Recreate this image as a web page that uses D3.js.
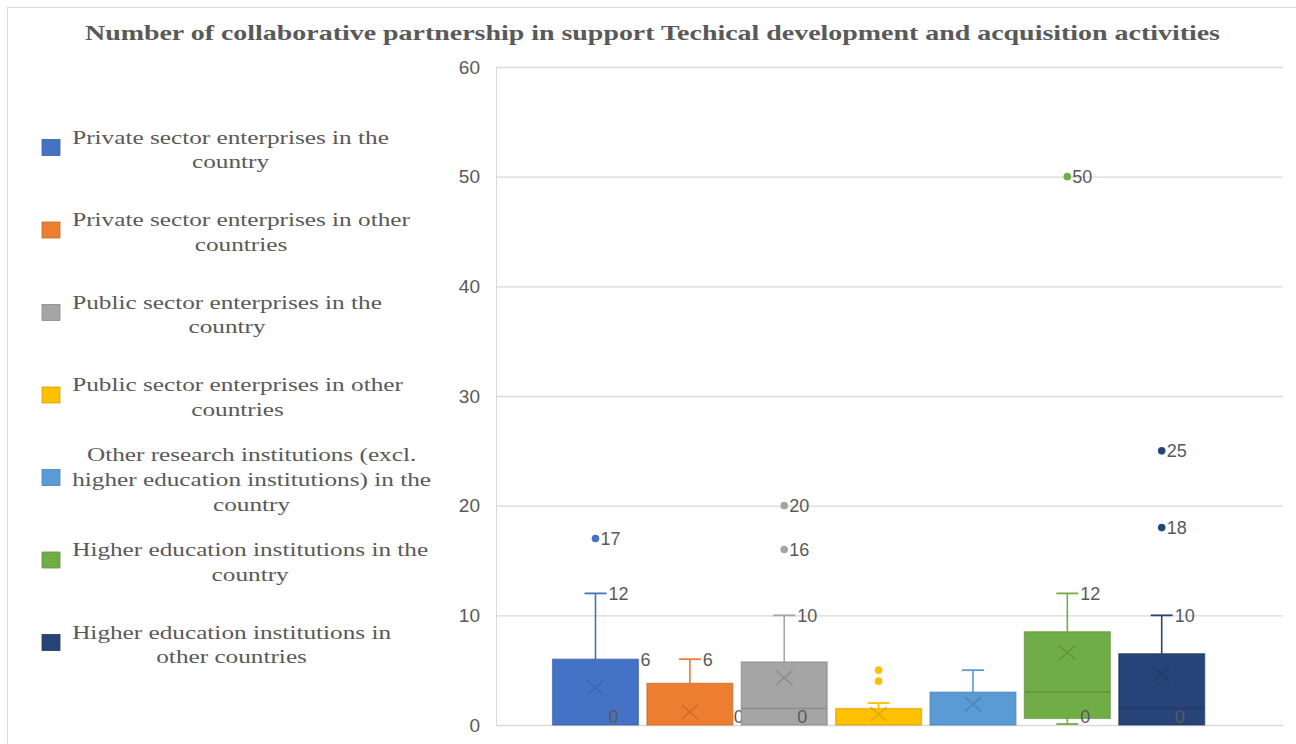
<!DOCTYPE html>
<html>
<head>
<meta charset="utf-8">
<script src="https://cdn.jsdelivr.net/npm/d3@7"></script>
<style>
  body { margin: 0; background: #fff; }
  svg { display: block; }
</style>
</head>
<body>
<svg id="chart" width="1296" height="744"></svg>
<script>
// ---------- data ----------
const titleText = "Number of collaborative partnership in support Techical development and acquisition activities";
const series = [
  "Private sector enterprises in the country",
  "Private sector enterprises in other countries",
  "Public sector enterprises in the country",
  "Public sector enterprises in other countries",
  "Other research institutions (excl. higher education institutions) in the country",
  "Higher education institutions in the country",
  "Higher education institutions in other countries"
];
const legendLines = [
  ["Private sector enterprises in the", "country"],
  ["Private sector enterprises in other", "countries"],
  ["Public sector enterprises in the", "country"],
  ["Public sector enterprises in other", "countries"],
  ["Other research institutions (excl.", "higher education institutions) in the", "country"],
  ["Higher education institutions in the", "country"],
  ["Higher education institutions in", "other countries"]
];
const colors   = ["#4472C4", "#ED7D31", "#A5A5A5", "#FFC000", "#5B9BD5", "#70AD47", "#264478"];
const mins     = [0, 0, 0, 0, 0, 0, 0];
const q1s      = [0, 0, 0, 0, 0, 0.6, 0];
const medians  = [0, 0, 1.5, 0, 0, 3, 1.5];
const q3s      = [6, 3.8, 5.75, 1.5, 3, 8.5, 6.5];
const maxs     = [12, 6, 10, 2, 5, 12, 10];
const means    = [3.4, 1.2, 4.3, 1.0, 1.9, 6.6, 4.65];
const outliers = [[17], [], [16, 20], [4, 5], [], [50], [18, 25]];
// which values carry a data label
const labelMax      = [true, true, true, false, false, true, true];
const labelMin      = [true, false, true, false, false, true, true];
const labelQ3       = [true, false, false, false, false, false, false];
const labelQ1       = [false, true, false, false, false, false, false];
const labelOutliers = [true, false, true, false, false, true, true];
const yTicks = [0, 10, 20, 30, 40, 50, 60];

// ---------- layout ----------
const svg = d3.select("#chart");
const plot = { left: 496, right: 1283, top: 67, bottom: 725 };
const textGray = "#595959";
const gridGray = "#d9d9d9";

// outer chart border
svg.append("rect")
  .attr("x", 7.5).attr("y", 7.5).attr("width", 1400).attr("height", 900)
  .attr("fill", "#fff").attr("stroke", gridGray).attr("stroke-width", 1);

const y = d3.scaleLinear().domain([0, 60]).range([plot.bottom, plot.top]);
const x = d3.scaleBand().domain(series).range([548.3, 1208.9])
  .paddingInner(0.09).paddingOuter(0.045);

// title
const title = svg.append("text")
  .attr("x", 85).attr("y", 40)
  .attr("font-family", "'Liberation Serif', 'Times New Roman', serif")
  .attr("font-weight", "bold")
  .attr("font-size", 22)
  .attr("fill", textGray)
  .attr("textLength", 1135)
  .attr("lengthAdjust", "spacingAndGlyphs")
  .text(titleText);

// grid + y axis
const yAxis = d3.axisLeft(y).tickValues(yTicks).tickSize(-(plot.right - plot.left)).tickPadding(16);
const gAxis = svg.append("g").attr("transform", `translate(${plot.left},0)`).call(yAxis);
gAxis.select(".domain").attr("stroke", gridGray).attr("d", `M0.5,${plot.top}V${plot.bottom}`);
gAxis.selectAll(".tick line").attr("stroke", gridGray).attr("stroke-width", 1.3);
gAxis.selectAll(".tick text")
  .attr("font-family", "'Liberation Sans', Arial, sans-serif")
  .attr("font-size", 19)
  .attr("fill", textGray);

// ---------- boxes ----------
const bw = x.bandwidth();
const capHalf = 11;
const g = svg.append("g");
const labelFont = "'Liberation Sans', Arial, sans-serif";

function addLabel(px, value, txt) {
  const cy = Math.min(y(value), plot.bottom - 8);
  g.append("text")
    .attr("x", px).attr("y", cy).attr("dy", "0.35em")
    .attr("font-family", labelFont).attr("font-size", 18)
    .attr("fill", textGray)
    .text(txt);
}

series.forEach((s, i) => {
  const c = colors[i];
  const dark = d3.color(c).darker(0.6).formatHex();
  const cx = x(s) + bw / 2;

  // whiskers
  g.append("line").attr("x1", cx).attr("x2", cx).attr("y1", y(q3s[i])).attr("y2", y(maxs[i]))
    .attr("stroke", c).attr("stroke-width", 1.6);
  g.append("line").attr("x1", cx - capHalf).attr("x2", cx + capHalf).attr("y1", y(maxs[i])).attr("y2", y(maxs[i]))
    .attr("stroke", c).attr("stroke-width", 1.8);
  g.append("line").attr("x1", cx).attr("x2", cx).attr("y1", y(q1s[i])).attr("y2", y(mins[i]))
    .attr("stroke", c).attr("stroke-width", 1.6);
  g.append("line").attr("x1", cx - capHalf).attr("x2", cx + capHalf).attr("y1", y(mins[i]) - 1).attr("y2", y(mins[i]) - 1)
    .attr("stroke", c).attr("stroke-width", 1.8);

  // box
  g.append("rect")
    .attr("x", x(s)).attr("width", bw)
    .attr("y", y(q3s[i])).attr("height", y(q1s[i]) - y(q3s[i]))
    .attr("fill", c).attr("stroke", dark).attr("stroke-width", 1.3).attr("stroke-opacity", 0.6);

  // median
  if (medians[i] > q1s[i]) {
    g.append("line").attr("x1", x(s)).attr("x2", x(s) + bw)
      .attr("y1", y(medians[i])).attr("y2", y(medians[i]))
      .attr("stroke", dark).attr("stroke-width", 1.6).attr("stroke-opacity", 0.7);
  }

  // mean marker (X)
  const my = y(means[i]);
  g.append("path")
    .attr("d", `M${cx - 8},${my - 7}L${cx + 8},${my + 7}M${cx - 8},${my + 7}L${cx + 8},${my - 7}`)
    .attr("stroke", dark).attr("stroke-width", 1.5).attr("stroke-opacity", 0.7).attr("fill", "none");

  // outliers
  outliers[i].forEach(v => {
    g.append("circle").attr("cx", cx).attr("cy", y(v)).attr("r", 3.8).attr("fill", c);
    if (labelOutliers[i]) addLabel(cx + 5, v, v);
  });

  // data labels
  if (labelMax[i]) addLabel(cx + 13, maxs[i], maxs[i]);
  if (labelMin[i]) addLabel(cx + 13, mins[i], mins[i]);
  if (labelQ3[i]) addLabel(x(s) + bw + 2, q3s[i], q3s[i]);
  if (labelQ1[i]) addLabel(x(s) + bw + 1, q1s[i], q1s[i]);
});

// ---------- legend ----------
const legendCenters = [149.5, 232, 314.5, 397, 479.5, 562, 644.5];
const lineH = 24.7;
const legendLeft = 72;
const lg = svg.append("g");

// measure horizontal stretch so the first line spans the reference width
const probe = lg.append("text")
  .attr("font-family", "'Liberation Serif', 'Times New Roman', serif")
  .attr("font-size", 19).text(legendLines[0][0]);
const stretch = 317 / probe.node().getComputedTextLength();
probe.remove();

legendLines.forEach((lines, i) => {
  const cyc = legendCenters[i];
  lg.append("rect")
    .attr("x", 42).attr("y", cyc - 2 - 8).attr("width", 18).attr("height", 16)
    .attr("fill", colors[i]).attr("stroke", d3.color(colors[i]).darker(0.5)).attr("stroke-width", 0.8);

  const widths = [];
  const tg = lg.append("g");
  const texts = lines.map((ln, k) => {
    const t = tg.append("text")
      .attr("font-family", "'Liberation Serif', 'Times New Roman', serif")
      .attr("font-size", 19)
      .attr("fill", textGray)
      .attr("text-anchor", "middle")
      .attr("y", cyc + (k - (lines.length - 1) / 2) * lineH)
      .attr("dy", "0.35em")
      .text(ln);
    widths.push(t.node().getComputedTextLength() * stretch);
    return t;
  });
  const blockW = d3.max(widths);
  const center = legendLeft + blockW / 2;
  tg.attr("transform", `translate(${center},0) scale(${stretch},1)`);
});
</script>
</body>
</html>
